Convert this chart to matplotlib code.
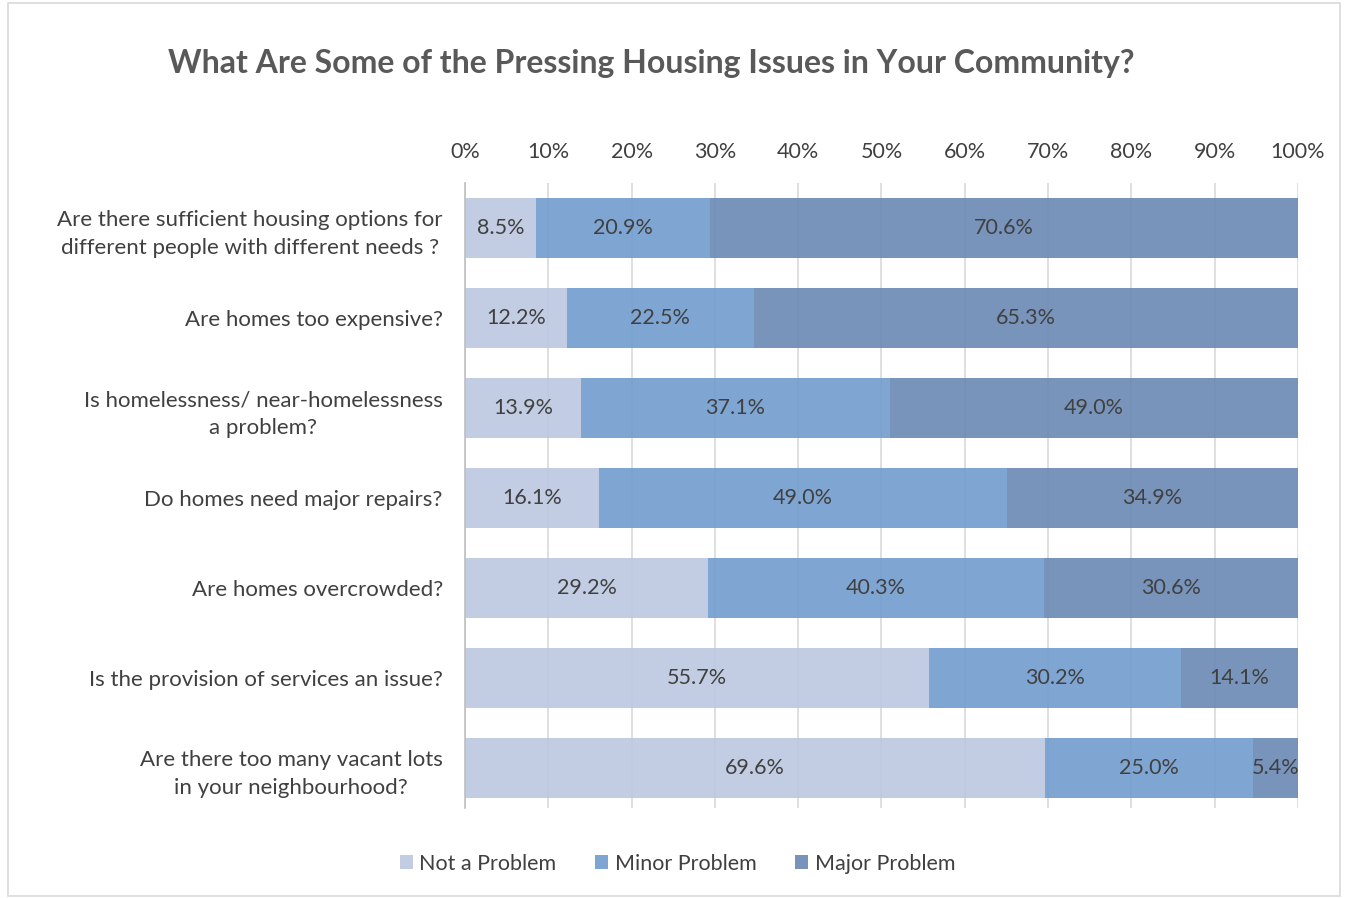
import matplotlib.pyplot as plt
from matplotlib.patches import Rectangle, Patch

questions = [
    'Are there sufficient housing options for\ndifferent people with different needs ?',
    'Are homes too expensive?',
    'Is homelessness/ near-homelessness\na problem?',
    'Do homes need major repairs?',
    'Are homes overcrowded?',
    'Is the provision of services an issue?',
    'Are there too many vacant lots\nin your neighbourhood?',
]
not_problem = [8.5, 12.2, 13.9, 16.1, 29.2, 55.7, 69.6]
minor_problem = [20.9, 22.5, 37.1, 49.0, 40.3, 30.2, 25.0]
major_problem = [70.6, 65.3, 49.0, 34.9, 30.6, 14.1, 5.4]
series_names = ['Not a Problem', 'Minor Problem', 'Major Problem']
ticks = [0, 10, 20, 30, 40, 50, 60, 70, 80, 90, 100]

colors = ['#bdc9e1', '#749dcf', '#6c8bb5']
txt = '#404040'

plt.rcParams['font.family'] = ['Lato', 'DejaVu Sans']

fig = plt.figure(figsize=(13.47, 8.98), dpi=100)
ax = fig.add_axes([0.3452, 0.1002, 0.6184, 0.696])

# outer chart border
fig.patches.append(Rectangle((0.006, 0.002), 0.989, 0.995, transform=fig.transFigure,
                             fill=False, edgecolor='#d9d9d9', linewidth=1.2))

ypos = list(range(len(questions)))
left = [0] * len(questions)
for vals, col in zip([not_problem, minor_problem, major_problem], colors):
    ax.barh(ypos, vals, left=left, height=0.667, color=col, alpha=0.92, zorder=2)
    for y, l, v in zip(ypos, left, vals):
        ax.text(l + v / 2, y, '%.1f%%' % v, ha='center', va='center',
                fontsize=15.5, color=txt, zorder=3)
    left = [a + b for a, b in zip(left, vals)]

ax.set_xlim(0, 100)
ax.set_ylim(6.444, -0.5)
ax.set_xticks(ticks)
ax.set_xticklabels(['%d%%' % t for t in ticks])
ax.xaxis.tick_top()
ax.tick_params(axis='x', length=0, pad=15, labelsize=15.5, labelcolor=txt)
ax.set_yticks(ypos)
ax.set_yticklabels(questions, fontsize=16, color=txt, linespacing=1.5)
ax.tick_params(axis='y', length=0, pad=16)
for lbl in ax.get_yticklabels():
    lbl.set_multialignment('center')

ax.grid(axis='x', color='#d9d9d9', linewidth=1.2, zorder=0)
ax.set_axisbelow(True)
for s in ['top', 'right', 'bottom']:
    ax.spines[s].set_visible(False)
ax.spines['left'].set_color('#bfbfbf')
ax.spines['left'].set_linewidth(1.2)

fig.text(0.4835, 0.929, 'What Are Some of the Pressing Housing Issues in Your Community?',
         ha='center', va='center', fontsize=23, fontweight='bold', color='#595959')

handles = [Patch(facecolor=c, alpha=0.92) for c in colors]
fig.legend(handles, series_names, loc='center', bbox_to_anchor=(0.503, 0.038), ncol=3,
           frameon=False, fontsize=15.5, labelcolor=txt, handlelength=0.6, handleheight=0.6,
           handletextpad=0.3, columnspacing=1.8)

fig.savefig('out.png', dpi=100)
